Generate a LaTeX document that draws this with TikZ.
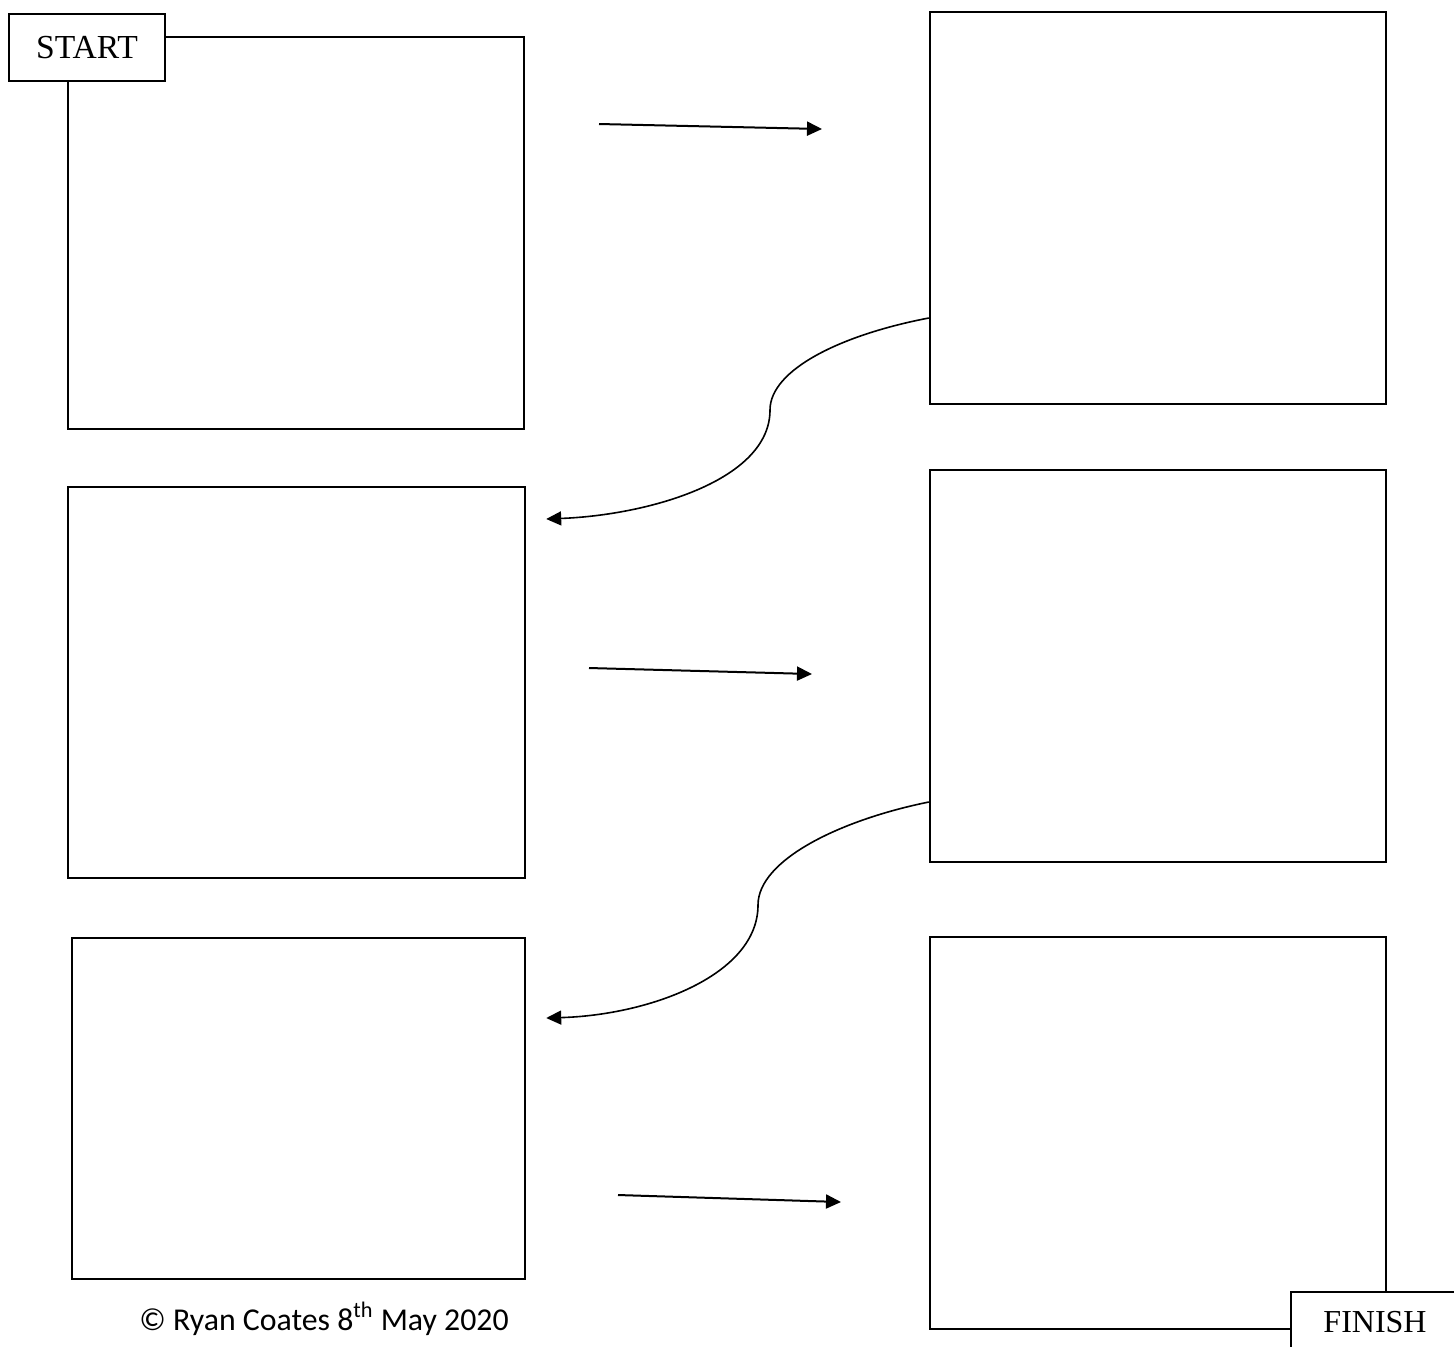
\documentclass[tikz,border=0pt]{standalone}
\usepackage{fontspec}
\setmainfont{Liberation Serif}
\newfontfamily\notefont{Carlito}
\usetikzlibrary{arrows.meta}
\begin{document}
\begin{tikzpicture}[x=0.5pt,y=-0.5pt,
  panel/.style={draw, line width=1.2pt, fill=white, inner sep=0pt,
    minimum width=228pt, minimum height=196pt},
  tag/.style={draw, line width=1pt, fill=white, inner sep=0pt,
    font=\fontsize{16}{19}\selectfont},
  flow/.style={line width=1pt, -{Triangle[length=7.5pt,width=7pt]}},
  swing/.style={line width=0.8pt, -{Triangle[length=7.5pt,width=7pt]}}]
\useasboundingbox (0,0) rectangle (1454,1346);

% six panels, two columns
\node[panel] (b1) at (296,233) {};
\node[panel] (b2) at (1158,208) {};
\node[panel, minimum width=228.5pt, minimum height=195.5pt] (b3) at (296.5,682.5) {};
\node[panel] (b4) at (1158,666) {};
\node[panel, minimum width=226.5pt, minimum height=170.5pt] (b5) at (298.5,1108.5) {};
\node[panel] (b6) at (1158,1133) {};

% start and finish tags (the finish tag runs off the right edge)
\node[tag, minimum width=78pt, minimum height=33.5pt, font=\fontsize{16.8}{20}\selectfont] (start) at (87,47.5) {START};
\node[tag, minimum width=110pt, minimum height=30pt] (finish) at (1401,1322) {FINISH\kern26pt};

% straight arrows left to right
\coordinate (a1s) at (599,124);  \coordinate (a1e) at (822,129);
\coordinate (a2s) at (589,668);  \coordinate (a2e) at (812,674);
\coordinate (a3s) at (618,1195); \coordinate (a3e) at (841,1202);
\draw[flow] (a1s) -- (a1e);
\draw[flow] (a2s) -- (a2e);
\draw[flow] (a3s) -- (a3e);

% curved arrows back to the left column
\coordinate (c1m) at (770,410);
\coordinate (c2m) at (758,905);
\draw[swing] ([yshift=-55pt]b2.west) .. controls (840,335) and (770,370) .. (c1m)
  .. controls (770,480) and (650,515) .. ([xshift=10pt,yshift=81.75pt]b3.east);
\draw[swing] ([yshift=-68pt]b4.west) .. controls (840,820) and (758,860) .. (c2m)
  .. controls (758,975) and (650,1015) .. ([xshift=10pt,yshift=45.25pt]b5.east);

% credit line
\node[anchor=base west, inner sep=0pt, font=\notefont\fontsize{15.9}{19}\selectfont] (credit) at (139,1330)
  {\textcopyright{} Ryan Coates 8\textsuperscript{th} May 2020};
\end{tikzpicture}
\end{document}
